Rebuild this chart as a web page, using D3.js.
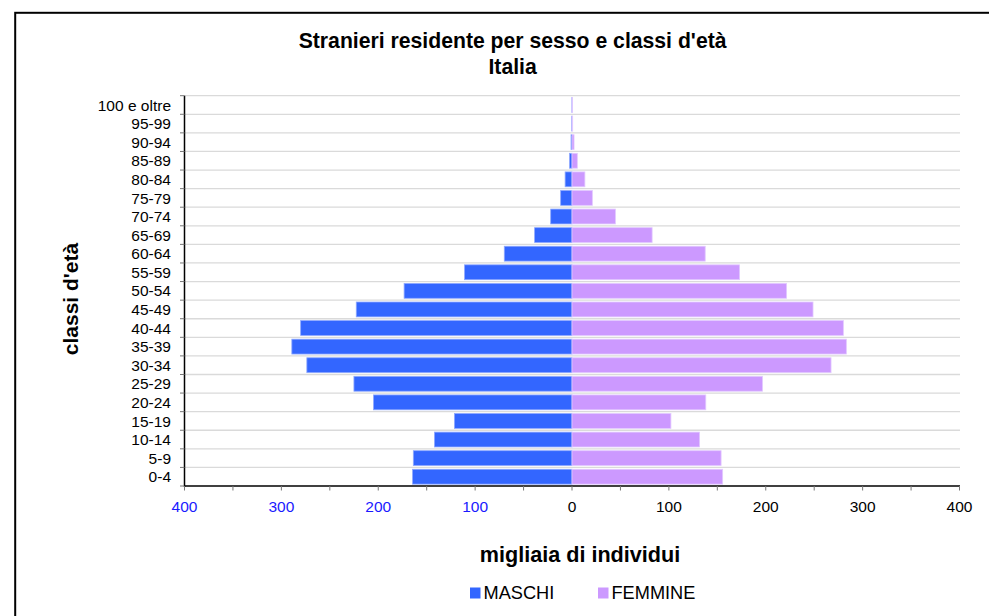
<!DOCTYPE html>
<html>
<head>
<meta charset="utf-8">
<script src="https://cdn.jsdelivr.net/npm/d3@7"></script>
<style>
  html, body { margin: 0; padding: 0; background: #fff; }
  svg { display: block; font-family: "Liberation Sans", Arial, sans-serif; }
</style>
</head>
<body>
<svg id="chart" width="989" height="616"></svg>
<script>
// Age classes (bottom to top)
const ageClasses = ["0-4","5-9","10-14","15-19","20-24","25-29","30-34","35-39","40-44","45-49","50-54","55-59","60-64","65-69","70-74","75-79","80-84","85-89","90-94","95-99","100 e oltre"];
// thousands of individuals
const maschi  = [164.6,163.8,142.0,121.4,204.9,225.1,273.7,289.2,280.1,222.7,173.3,110.9,69.9,38.6,22.0,11.7,7.1,2.5,1.0,0.3,0.1];
const femmine = [155.5,153.9,131.7,102.1,138.1,196.6,267.4,283.2,280.1,248.8,221.5,173.0,137.5,82.7,44.8,21.0,13.3,5.5,2.1,0.7,0.4];
const xMajorTicks = [-400,-300,-200,-100,0,100,200,300,400];
const xMinorTicks = [-350,-250,-150,-50,50,150,250,350];
const seriesNames = ["MASCHI","FEMMINE"];
const colors = ["#3366FF","#CC99FF"];
const titleLines = ["Stranieri residente per sesso e classi d'età","Italia"];
const xTitle = "migliaia di individui";
const yTitle = "classi d'età";

(function(){
const svg = d3.select("#chart");

// frame
svg.append("rect").attr("x",15.2).attr("y",12.8).attr("width",1100).attr("height",800)
  .attr("fill","none").attr("stroke","#000").attr("stroke-width",2);

const pLeft = 184.5, pRight = 959.5, pTop = 95.7, pBottom = 486;
const x = d3.scaleLinear().domain([-400,400]).range([pLeft,pRight]);
const yBand = d3.scaleBand().domain(ageClasses.slice().reverse()).range([pTop,pBottom]).paddingInner(0).paddingOuter(0);
const rowH = yBand.bandwidth();
const barPad = 0.1;

// gridlines at row boundaries
const boundaries = ageClasses.slice().reverse().map(d => yBand(d));
svg.append("g").selectAll("line").data(boundaries).join("line")
  .attr("x1",pLeft).attr("x2",pRight+0.5)
  .attr("y1",d=>d).attr("y2",d=>d)
  .attr("stroke","#dadada").attr("stroke-width",1.3);

// bars
const gBars = svg.append("g");
gBars.selectAll("rect.m").data(ageClasses).join("rect").attr("class","m")
  .attr("x",(d,i)=>x(-maschi[i]))
  .attr("width",(d,i)=>x(0)-x(-maschi[i]))
  .attr("y",d=>yBand(d)+rowH*barPad)
  .attr("height",rowH*(1-2*barPad))
  .attr("fill",colors[0]).attr("stroke","#8fa9ff").attr("stroke-width",0.8);
gBars.selectAll("rect.f").data(ageClasses).join("rect").attr("class","f")
  .attr("x",x(0))
  .attr("width",(d,i)=>x(femmine[i])-x(0))
  .attr("y",d=>yBand(d)+rowH*barPad)
  .attr("height",rowH*(1-2*barPad))
  .attr("fill",colors[1]).attr("stroke","#e2c9ff").attr("stroke-width",0.8);

// y axis
const yAxisG = svg.append("g");
yAxisG.append("line").attr("x1",pLeft).attr("x2",pLeft).attr("y1",pTop).attr("y2",pBottom+1)
  .attr("stroke","#000").attr("stroke-width",1.5);
yAxisG.selectAll("line.t").data(boundaries.concat([pBottom])).join("line").attr("class","t")
  .attr("x1",pLeft-4.5).attr("x2",pLeft).attr("y1",d=>d).attr("y2",d=>d)
  .attr("stroke","#777").attr("stroke-width",1);
yAxisG.selectAll("text").data(ageClasses).join("text")
  .attr("x",171).attr("y",d=>yBand(d)+rowH/2)
  .attr("dy","0.36em").attr("text-anchor","end")
  .attr("font-size","15.5px").attr("fill","#000").text(d=>d);

// x axis
const xAxisG = svg.append("g");
xAxisG.append("line").attr("x1",pLeft-0.5).attr("x2",pRight+0.5).attr("y1",pBottom).attr("y2",pBottom)
  .attr("stroke","#000").attr("stroke-width",1.5);
xAxisG.selectAll("line.t").data(xMajorTicks.concat(xMinorTicks)).join("line").attr("class","t")
  .attr("x1",d=>x(d)).attr("x2",d=>x(d)).attr("y1",pBottom).attr("y2",pBottom+4.5)
  .attr("stroke","#777").attr("stroke-width",1);
xAxisG.selectAll("text").data(xMajorTicks).join("text")
  .attr("x",d=>x(d)).attr("y",511.5).attr("text-anchor","middle")
  .attr("font-size","15.5px").attr("fill",d=>d<0?"#1a1aff":"#000")
  .text(d=>Math.abs(d));

// titles
svg.append("text").attr("x",512.6).attr("y",47.5).attr("text-anchor","middle")
  .attr("font-size","21.2px").attr("font-weight","bold").text(titleLines[0]);
svg.append("text").attr("x",512.6).attr("y",74).attr("text-anchor","middle")
  .attr("font-size","21.2px").attr("font-weight","bold").text(titleLines[1]);
svg.append("text").attr("x",580).attr("y",561.5).attr("text-anchor","middle")
  .attr("font-size","21.6px").attr("font-weight","bold").text(xTitle);
svg.append("text").attr("transform","translate(78,299) rotate(-90)").attr("text-anchor","middle")
  .attr("font-size","21px").attr("font-weight","bold").text(yTitle);

// legend
const legendX = [470, 598];
const leg = svg.append("g");
seriesNames.forEach((n,i)=>{
  leg.append("rect").attr("x",legendX[i]).attr("y",587.5).attr("width",10.5).attr("height",11)
    .attr("fill",colors[i]);
  leg.append("text").attr("x",legendX[i]+13.5).attr("y",599).attr("font-size","18.2px").text(n);
});
})();
</script>
</body>
</html>
